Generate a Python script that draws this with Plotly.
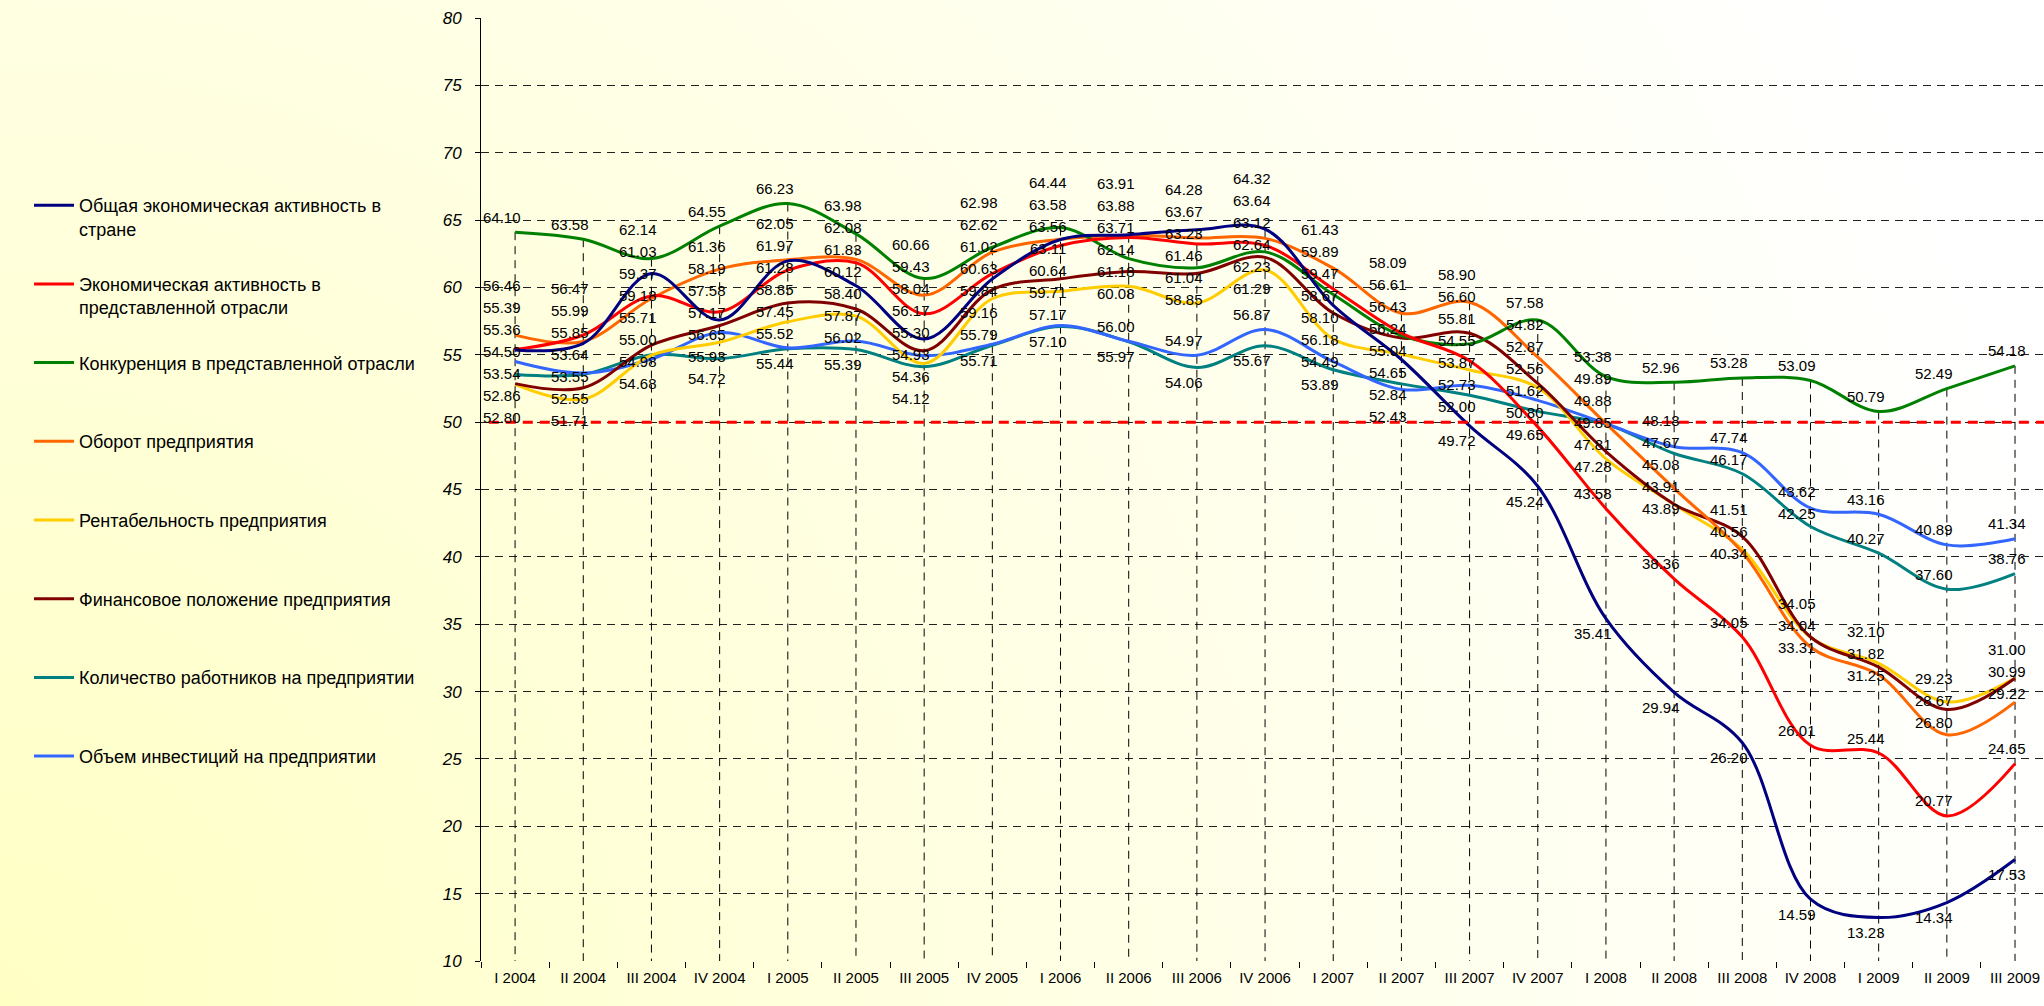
import base64
import plotly.graph_objects as go

quarters = ["I 2004", "II 2004", "III 2004", "IV 2004", "I 2005", "II 2005", "III 2005", "IV 2005",
            "I 2006", "II 2006", "III 2006", "IV 2006", "I 2007", "II 2007", "III 2007", "IV 2007",
            "I 2008", "II 2008", "III 2008", "IV 2008", "I 2009", "II 2009", "III 2009"]

general_activity = [55.36, 55.85, 61.03, 57.58, 61.97, 60.12, 56.17, 60.63, 63.56, 63.91, 64.28, 64.32,
                    58.67, 54.65, 49.72, 45.24, 35.41, 29.94, 26.20, 14.59, 13.23, 14.34, 17.53]
industry_activity = [55.39, 56.47, 59.37, 58.19, 61.28, 61.83, 58.04, 61.02, 63.11, 63.71, 63.23, 63.12,
                     59.89, 56.61, 54.55, 49.65, 43.58, 38.36, 34.05, 26.01, 25.44, 20.77, 24.65]
competition = [64.10, 63.58, 62.14, 64.55, 66.23, 63.98, 60.66, 62.98, 64.44, 62.14, 61.46, 62.64,
               59.47, 56.43, 55.81, 57.58, 53.38, 52.96, 53.28, 53.09, 50.79, 52.49, 54.18]
turnover = [56.46, 55.99, 59.18, 61.36, 62.05, 62.08, 59.43, 62.62, 63.58, 63.88, 63.67, 63.64,
            61.43, 58.09, 58.90, 54.82, 49.89, 45.08, 40.34, 33.31, 31.25, 26.80, 29.22]
profitability = [52.80, 51.71, 54.98, 55.93, 57.45, 57.87, 54.36, 59.16, 59.71, 60.08, 58.85, 61.29,
                 56.18, 55.04, 53.87, 52.56, 47.28, 43.89, 40.56, 34.04, 32.10, 29.23, 31.00]
financial = [52.86, 52.55, 55.71, 57.17, 58.85, 58.40, 55.30, 59.84, 60.64, 61.18, 61.04, 62.23,
             58.10, 56.24, 56.60, 52.87, 47.81, 43.91, 41.51, 34.05, 31.82, 28.67, 30.99]
employees = [53.54, 53.55, 55.00, 54.72, 55.44, 55.39, 54.12, 55.71, 57.10, 55.97, 54.06, 55.67,
             53.89, 52.84, 52.00, 50.80, 49.85, 47.67, 46.17, 42.25, 40.27, 37.60, 38.76]
investment = [54.50, 53.64, 54.68, 56.65, 55.52, 56.02, 54.93, 55.79, 57.17, 56.00, 54.97, 56.87,
              54.49, 52.43, 52.73, 51.62, 49.88, 48.18, 47.74, 43.62, 43.16, 40.89, 41.34]

series_names = ["Общая экономическая активность в<br>стране",
                "Экономическая активность в<br>представленной отрасли",
                "Конкуренция в представленной отрасли",
                "Оборот предприятия",
                "Рентабельность предприятия",
                "Финансовое положение предприятия",
                "Количество работников на предприятии",
                "Объем инвестиций на предприятии"]

series_values = [general_activity, industry_activity, competition, turnover,
                 profitability, financial, employees, investment]
colors = ["#000080", "#FF0000", "#008000", "#FF6600", "#FFCC00", "#800000", "#008080", "#3366FF"]

W, H = 2044, 1006
ML, MR, MT, MB = 481, 0, 18, 45
YMIN, YMAX = 10, 80
PX = (H - MT - MB) / (YMAX - YMIN)
FONT = "Liberation Sans, Arial, sans-serif"

fig = go.Figure()

# drop lines from highest value to the axis
drop_x, drop_y = [], []
for j, q in enumerate(quarters):
    top = max(s[j] for s in series_values)
    drop_x += [q, q, None]
    drop_y += [top, YMIN, None]
fig.add_trace(go.Scatter(x=drop_x, y=drop_y, mode="lines", showlegend=False, hoverinfo="skip",
                         line=dict(color="#000000", width=1, dash="8px,6px")))

draw_order = [6, 7, 4, 5, 3, 2, 1, 0]
for i in draw_order:
    fig.add_trace(go.Scatter(
        x=quarters, y=series_values[i], mode="lines", name=series_names[i],
        line=dict(color=colors[i], width=3, shape="spline", smoothing=1.0),
        legend="legend" if i == 0 else f"legend{i + 1}",
    ))

# data labels, de-overlapped per quarter (pixel space, y downward)
GAP = 22.0
OFF = 15.0
annotations = []
for j, q in enumerate(quarters):
    col = [s[j] for s in series_values]
    lowest = col.index(min(col))
    items = []
    for i, v in enumerate(col):
        ypx = (YMAX - v) * PX
        d = ypx + (OFF if i == lowest else -OFF)
        items.append((d, i, v))
    items.sort(key=lambda t: t[0])
    blocks = []
    for d, i, v in items:
        blocks.append({"d": [d], "idx": [(i, v)], "s": d})
        while len(blocks) > 1:
            a, b = blocks[-2], blocks[-1]
            a_bottom = a["s"] + (len(a["d"]) - 1) * GAP
            if b["s"] - a_bottom < GAP:
                merged = {"d": a["d"] + b["d"], "idx": a["idx"] + b["idx"]}
                merged["s"] = sum(dd - k * GAP for k, dd in enumerate(merged["d"])) / len(merged["d"])
                blocks = blocks[:-2] + [merged]
            else:
                break
    for blk in blocks:
        for k, (i, v) in enumerate(blk["idx"]):
            ypx = blk["s"] + k * GAP
            annotations.append(dict(
                x=q, y=YMAX - ypx / PX, xref="x", yref="y", text=f"{v:.2f}",
                showarrow=False, xshift=-13 if j < len(quarters) - 1 else -8, yanchor="middle",
                font=dict(family=FONT, size=15, color="#000000")))

# background gradient
svg = (f'<svg xmlns="http://www.w3.org/2000/svg" width="{W}" height="{H}" viewBox="0 0 {W} {H}" '
       f'preserveAspectRatio="none"><defs><radialGradient id="g" gradientUnits="userSpaceOnUse" '
       f'cx="0" cy="{H}" r="2100"><stop offset="0" stop-color="#FFFFC4"/>'
       f'<stop offset="0.5" stop-color="#FFFFE4"/><stop offset="1" stop-color="#FFFFFF"/>'
       f'</radialGradient></defs><rect width="{W}" height="{H}" fill="url(#g)"/></svg>')
src = "data:image/svg+xml;base64," + base64.b64encode(svg.encode("utf-8")).decode("ascii")
pw, ph = W - ML - MR, H - MT - MB
fig.add_layout_image(dict(source=src, xref="paper", yref="paper",
                          x=-ML / pw, y=1 + MT / ph, sizex=W / pw, sizey=H / ph,
                          xanchor="left", yanchor="top", sizing="stretch", layer="below"))

fig.add_shape(type="line", xref="paper", yref="y", x0=0.005, x1=1, y0=50, y1=50,
              line=dict(color="#FF0000", width=3, dash="10px,7px"))

fig.update_layout(
    width=W, height=H,
    margin=dict(l=ML, r=MR, t=MT, b=MB, pad=0),
    paper_bgcolor="#FFFFFF", plot_bgcolor="rgba(0,0,0,0)",
    font=dict(family=FONT, color="#000000"),
    annotations=annotations,
    hovermode=False,
)

fig.update_xaxes(type="category", range=[-0.5, 22.425], showgrid=False, zeroline=False,
                 showline=False, ticks="outside", ticklen=6, tickcolor="#000000",
                 tickson="boundaries", ticklabelstandoff=6, automargin=False,
                 tickfont=dict(family=FONT, size=15, color="#000000"))
fig.update_yaxes(range=[YMIN, YMAX], dtick=5, showgrid=True, gridcolor="#222222", gridwidth=1,
                 griddash="8px,6px", zeroline=False, showline=True, linecolor="#000000",
                 linewidth=1, ticks="outside", ticklen=5, tickcolor="#000000",
                 ticklabelstandoff=10, automargin=False,
                 tickfont=dict(family=FONT, size=17, color="#000000", style="italic"))

legend_y = [204 + 78.7 * i for i in range(8)]
for i in range(8):
    key = "legend" if i == 0 else f"legend{i + 1}"
    fig.update_layout(**{key: dict(
        xref="container", yref="container", x=29 / W, xanchor="left",
        y=1 - (legend_y[i] - 17) / H, yanchor="top", valign="top",
        bgcolor="rgba(0,0,0,0)", borderwidth=0, itemwidth=40,
        font=dict(family=FONT, size=18, color="#000000"))})

fig.write_html("out.html", config={"displayModeBar": False},
               post_script="document.body.style.margin='0';document.body.style.overflow='hidden';")
